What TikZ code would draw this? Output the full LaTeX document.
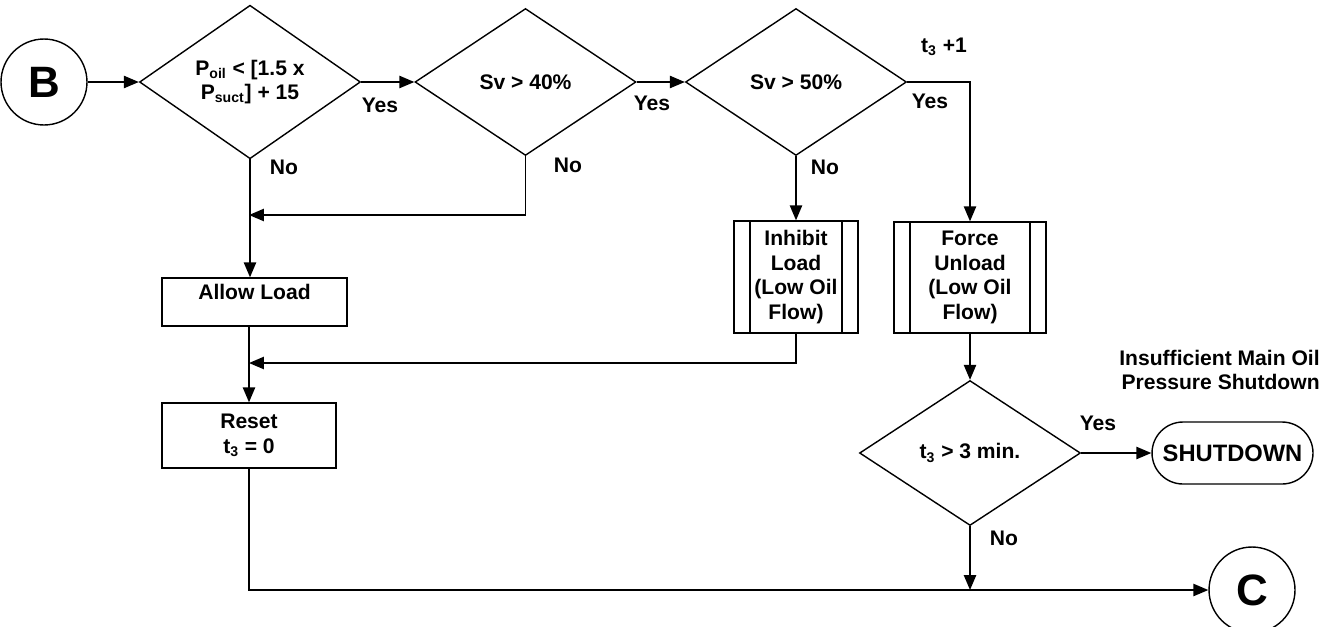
\documentclass[tikz,border=0pt]{standalone}
\usepackage{fontspec}
\setmainfont{Liberation Sans}
\usepackage{tikz}
\usetikzlibrary{arrows.meta,positioning,shapes.geometric,calc}

\begin{document}
\begin{tikzpicture}[x=0.02cm, y=-0.02cm,
    every node/.style={font=\bfseries\fontsize{12}{14}\selectfont, align=center},
    line/.style={line width=0.8pt},
    arr/.style={line width=0.8pt, -{Triangle[length=8.5pt,width=7pt]}},
    decide/.style={diamond, draw, line width=0.8pt, inner sep=0pt,
      minimum width=4.42cm, minimum height=2.94cm},
    procbox/.style={rectangle, draw, line width=0.8pt, inner sep=2pt},
    subproc/.style={rectangle, draw, line width=0.8pt, inner sep=2pt,
      path picture={
        \draw[line width=0.8pt] ([xshift=0.32cm]path picture bounding box.north west)
          -- ([xshift=0.32cm]path picture bounding box.south west);
        \draw[line width=0.8pt] ([xshift=-0.32cm]path picture bounding box.north east)
          -- ([xshift=-0.32cm]path picture bounding box.south east);}},
    connector/.style={circle, draw, line width=0.8pt, minimum size=1.72cm, inner sep=0pt,
      font=\bfseries\fontsize{25}{30}\selectfont}]

  \useasboundingbox (0,0) rectangle (1327,626);

  % Decisions
  \node[connector] (B) at (44,82) {B};
  \node[decide] (oilchk) at (250,82) {P\textsubscript{oil} < [1.5 x\\P\textsubscript{suct}] + 15};
  \node[decide] (sv40) at (525.5,82) {Sv > 40\%};
  \node[decide] (sv50) at (796,82) {Sv > 50\%};

  % Process boxes
  \node[procbox, minimum width=3.7cm, inner ysep=0pt, text height=0.42cm, text depth=0.54cm]
    (allow) at (254.5,302) {Allow Load};
  \node[procbox, minimum width=3.48cm, minimum height=1.3cm] (reset) at (249,435.5) {Reset\\t\textsubscript{3} = 0};
  \node[subproc, minimum width=2.48cm, minimum height=2.24cm] (inhibit) at (796,277)
    {Inhibit\\Load\\(Low Oil\\Flow)};
  \node[subproc, minimum width=3.04cm, minimum height=2.22cm] (force) at (970,277.5)
    {Force\\Unload\\(Low Oil\\Flow)};

  \node[decide, minimum height=2.9cm] (timer) at (970,453) {t\textsubscript{3} > 3 min.};
  \node[draw, line width=0.8pt, rounded corners=0.62cm, minimum width=3.22cm, minimum height=1.24cm,
    font=\bfseries\fontsize{13.5}{16}\selectfont] (shutdown) at (1232.5,453) {SHUTDOWN};
  \node[anchor=east, align=right, inner sep=0pt] (shutnote) at (1320,370) {Insufficient Main Oil\\Pressure Shutdown};
  \node[connector] (C) at (1252,590) {C};

  \coordinate (j1) at (249,215);
  \coordinate (j2) at (249,363);
  \coordinate (j3) at (970,590);

  % Connectors
  \draw[arr] (B) -- (oilchk.west);
  \draw[arr] (oilchk.east) -- (sv40.west);
  \draw[arr] (sv40.east) -- (sv50.west);
  \draw[arr] (sv50.east) -| (force.north);
  \draw[arr] (oilchk.south) -- (oilchk.south |- allow.north);
  \draw[arr] (sv40.south) |- (j1);
  \draw[arr] (sv50.south) -- (inhibit.north);
  \draw[arr] (j2 |- allow.south) -- (reset.north);
  \draw[arr] (inhibit.south) |- (j2);
  \draw[arr] (force.south) -- (timer.north);
  \draw[arr] (timer.east) -- (shutdown.west);
  \draw[arr] (timer.south) -- (j3);
  \draw[arr] (reset.south) |- (C.west);

  % Labels
  \node (yes1) at (380,105) {Yes};
  \node (no1) at (284,167) {No};
  \node (yes2) at (652,103) {Yes};
  \node (no2) at (568,165) {No};
  \node (yes3) at (930,101) {Yes};
  \node (no3) at (825,167) {No};
  \node (inc) at (944,47) {t\textsubscript{3} +1};
  \node (yes4) at (1098,423) {Yes};
  \node (no4) at (1004,538) {No};
\end{tikzpicture}
\end{document}
